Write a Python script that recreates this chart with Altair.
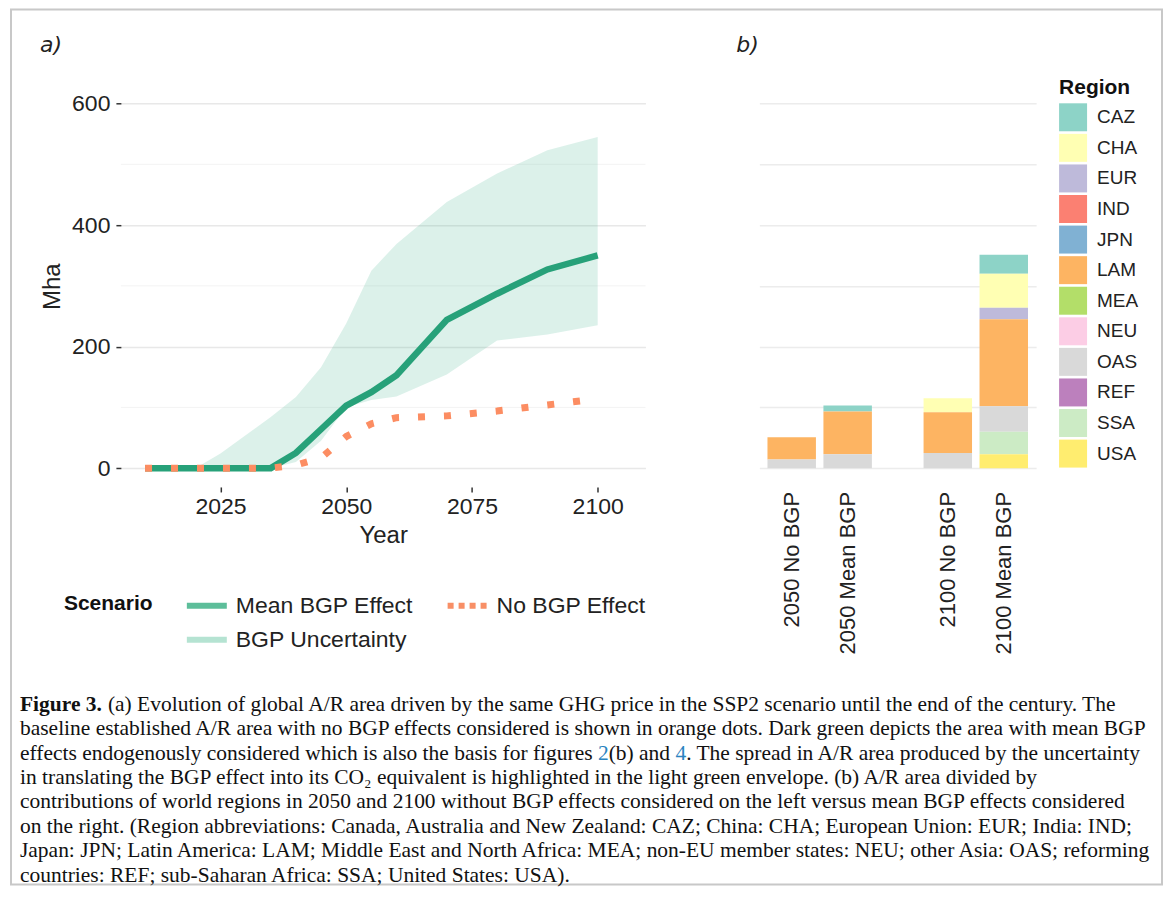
import altair as alt
import pandas as pd

# ---------------- data: panel a ----------------
years = [2010, 2015, 2020, 2025, 2030, 2035, 2040, 2045, 2050, 2055, 2060, 2070, 2080, 2090, 2100]
mean_bgp = [0, 0, 0, 0, 0, 0, 25, 64, 103, 125, 153, 244, 287, 327, 350]
unc_low = [0, 0, 0, 0, 0, 0, 10, 45, 100, 112, 118, 154, 210, 220, 235]
unc_high = [0, 0, 0, 24, 54, 84, 117, 166, 238, 325, 369, 438, 485, 523, 545]
no_bgp = [0, 0, 0, 0, 0, 0, 5, 17, 52, 73, 83, 86, 94, 104, 114]
minor_grid = [100, 300, 500]

scenarios = ["Mean BGP Effect", "No BGP Effect", "BGP Uncertainty"]
scenario_colors = ["#5dbe9a", "#f88f66", "#b5e3d2"]

# ---------------- data: panel b ----------------
regions = ["CAZ", "CHA", "EUR", "IND", "JPN", "LAM", "MEA", "NEU", "OAS", "REF", "SSA", "USA"]
region_colors = ["#8dd3c7", "#ffffb3", "#bebada", "#fb8072", "#80b1d3", "#fdb462",
                 "#b3de69", "#fccde5", "#d9d9d9", "#bc80bd", "#ccebc5", "#ffed6f"]
bar_years = ["2050", "2050", "2100", "2100"]
bar_scen = ["No BGP", "Mean BGP", "No BGP", "Mean BGP"]
v2050_no = [0, 0, 0, 0, 0, 37, 0, 0, 14, 0, 0, 0]
v2050_mean = [10, 0, 0, 0, 0, 70, 0, 0, 23, 0, 0, 0]
v2100_no = [0, 23, 0, 0, 0, 67, 0, 0, 25, 0, 0, 0]
v2100_mean = [31, 56, 19, 0, 0, 143, 0, 0, 42, 0, 37, 23]
bar_values = [v2050_no, v2050_mean, v2100_no, v2100_mean]

# ---------------- caption ----------------
caption_bold = "Figure 3."
caption_lines = [
    "(a) Evolution of global A/R area driven by the same GHG price in the SSP2 scenario until the end of the century. The",
    "baseline established A/R area with no BGP effects considered is shown in orange dots. Dark green depicts the area with mean BGP",
    "effects endogenously considered which is also the basis for figures 2(b) and 4. The spread in A/R area produced by the uncertainty",
    "in translating the BGP effect into its CO\u2082 equivalent is highlighted in the light green envelope. (b) A/R area divided by",
    "contributions of world regions in 2050 and 2100 without BGP effects considered on the left versus mean BGP effects considered",
    "on the right. (Region abbreviations: Canada, Australia and New Zealand: CAZ; China: CHA; European Union: EUR; India: IND;",
    "Japan: JPN; Latin America: LAM; Middle East and North Africa: MEA; non-EU member states: NEU; other Asia: OAS; reforming",
    "countries: REF; sub-Saharan Africa: SSA; United States: USA).",
]

# ---------------- tables ----------------
df_a = pd.DataFrame({"year": years, "mean": mean_bgp, "low": unc_low,
                     "high": unc_high, "nobgp": no_bgp})
df_minor = pd.DataFrame({"v": minor_grid})
df_leg = pd.DataFrame({"year": years[:3], "value": [0, 0, 0], "scenario": scenarios})

rows = []
for yr, sc, vals in zip(bar_years, bar_scen, bar_values):
    for i, (r, v) in enumerate(zip(regions, vals)):
        if v > 0:
            rows.append({"year": yr, "scen": sc, "region": r, "ord": i, "value": v})
df_b = pd.DataFrame(rows)
df_lab = pd.DataFrame({"year": bar_years, "scen": bar_scen,
                       "label": [f"{y} {s}" for y, s in zip(bar_years, bar_scen)]})

line3_gap = caption_lines[2].replace("figures 2(b) and 4.", "figures \u2007(b) and \u2007.")
cap_plain = pd.DataFrame({"line": [1, 3, 4, 5, 6, 7],
                          "text": [caption_lines[i] for i in [1, 3, 4, 5, 6, 7]]})
cap_first = pd.DataFrame({"line": [0], "text": [caption_lines[0]]})
cap_bold = pd.DataFrame({"line": [0], "text": [caption_bold]})
cap_blue = pd.DataFrame({"line": [2], "text": [caption_lines[2]]})
cap_gap = pd.DataFrame({"line": [2], "text": [line3_gap]})
one = pd.DataFrame({"k": [0]})

# ---------------- style constants ----------------
SANS = "Liberation Sans"
SERIF = "Liberation Serif"
WA, WB, H = 525, 277, 402
TXT = "#222222"
CAP_SIZE = 21.5

x_scale = alt.Scale(domain=[2005.2, 2109.5], nice=False, zero=False)
y_scale = alt.Scale(domain=[-31, 630], nice=False, zero=False)
x_axis = alt.Axis(values=[2025, 2050, 2075, 2100], format="d", title="Year", grid=False,
                  domain=False, tickSize=5, tickColor="#333333", tickWidth=1.5,
                  labelFont=SANS, labelFontSize=23, labelColor=TXT, labelPadding=4,
                  titleFont=SANS, titleFontSize=24, titleFontWeight="normal",
                  titleColor=TXT, titlePadding=5)
y_axis = alt.Axis(values=[0, 200, 400, 600], title="Mha", grid=True, gridColor="#e8e8e8",
                  gridWidth=1.5, domain=False, tickSize=5, tickColor="#333333",
                  tickWidth=1.5, labelFont=SANS, labelFontSize=23, labelColor=TXT,
                  labelPadding=6, titleFont=SANS, titleFontSize=24,
                  titleFontWeight="normal", titleColor=TXT, titlePadding=7)

def X(field):
    return alt.X(field, scale=x_scale, axis=x_axis, title="Year")

def Y(field):
    return alt.Y(field, scale=y_scale, axis=y_axis, title="Mha")

minor = alt.Chart(df_minor).mark_rule(color="#f3f3f3", strokeWidth=1).encode(y=Y("v:Q"))
area = alt.Chart(df_a).mark_area(color="#4fb894", opacity=0.2).encode(
    x=X("year:Q"), y=Y("low:Q"), y2="high:Q")
mean_line = alt.Chart(df_a).mark_line(color="#27a179", strokeWidth=6.5, strokeCap="butt").encode(
    x=X("year:Q"), y=Y("mean:Q"))
nobgp_line = alt.Chart(df_a).mark_line(color="#fc8d62", strokeWidth=7, strokeDash=[7, 19],
                                       strokeCap="butt").encode(x=X("year:Q"), y=Y("nobgp:Q"))

leg = alt.Legend(title="Scenario", orient="none", legendX=-57, legendY=508,
                 direction="horizontal", columns=2, titleOrient="left",
                 titleAnchor="start", titleBaseline="top",
                 symbolType="M-2,0L2,0", symbolSize=400, symbolStrokeWidth=6,
                 labelOffset=16, labelFont=SANS, labelFontSize=23, labelColor=TXT,
                 titleFont=SANS, titleFontSize=21, titleFontWeight="bold", titleColor="#111111",
                 titlePadding=41, columnPadding=22, rowPadding=9, labelLimit=400)
dummy = alt.Chart(df_leg).transform_filter("false").mark_line().encode(
    x=X("year:Q"), y=Y("value:Q"),
    color=alt.Color("scenario:N", scale=alt.Scale(domain=scenarios, range=scenario_colors), legend=leg),
    strokeDash=alt.StrokeDash("scenario:N", scale=alt.Scale(domain=scenarios,
                              range=[[1, 0], [6, 5], [1, 0]]), legend=leg))

plot_a = alt.layer(minor, area, mean_line, nobgp_line, dummy)

cap_y = alt.Y("line:Q", scale=alt.Scale(domain=[0, 7], range=[620, 791.1]), axis=None)
cap_kw = dict(align="left", baseline="middle", font=SERIF, fontSize=CAP_SIZE, color="#111111")

frame = alt.Chart(one).mark_rect(filled=False, color="#c8c8c8", strokeWidth=2).encode(
    x=alt.value(-110), x2=alt.value(1042), y=alt.value(-76), y2=alt.value(800))
label_a = alt.Chart(one).mark_text(text="a)", align="left", baseline="middle", font="DejaVu Sans",
                                   fontStyle="italic", fontSize=22, color=TXT).encode(
    x=alt.value(-81), y=alt.value(-40))
c_plain = alt.Chart(cap_plain).mark_text(**cap_kw).encode(x=alt.value(-101), y=cap_y, text="text:N")
c_bold = alt.Chart(cap_bold).mark_text(fontWeight="bold", **cap_kw).encode(
    x=alt.value(-101), y=cap_y, text="text:N")
c_first = alt.Chart(cap_first).mark_text(**cap_kw).encode(x=alt.value(-13), y=cap_y, text="text:N")
blue_kw = dict(cap_kw)
blue_kw["color"] = "#2a83c0"
c_blue = alt.Chart(cap_blue).mark_text(**blue_kw).encode(x=alt.value(-101), y=cap_y, text="text:N")
erase_kw = dict(cap_kw)
erase_kw["color"] = "#ffffff"
c_erase = alt.Chart(cap_gap).mark_text(stroke="#ffffff", strokeWidth=1.4, **erase_kw).encode(
    x=alt.value(-101), y=cap_y, text="text:N")
c_gap = alt.Chart(cap_gap).mark_text(**cap_kw).encode(x=alt.value(-101), y=cap_y, text="text:N")

text_a = alt.layer(frame, label_a, c_plain, c_bold, c_first, c_blue, c_erase, c_gap)

panel_a = alt.layer(plot_a, text_a).resolve_scale(y="independent").properties(width=WA, height=H)

# ---------------- panel b ----------------
xb = alt.X("year:N", scale=alt.Scale(domain=["2050", "2100"], paddingInner=0.283, paddingOuter=0.028), axis=None)
xob = alt.XOffset("scen:N", scale=alt.Scale(domain=["No BGP", "Mean BGP"], paddingInner=0.134, paddingOuter=0.067))
yb_axis = alt.Axis(values=[0, 100, 200, 300, 400, 500, 600], grid=True, gridColor="#ececec",
                   gridWidth=1.5, labels=False, ticks=False, domain=False, title=None)
bars = alt.Chart(df_b).mark_bar().encode(
    x=xb, xOffset=xob,
    y=alt.Y("value:Q", scale=y_scale, axis=yb_axis, stack="zero"),
    color=alt.Color("region:N", scale=alt.Scale(domain=regions, range=region_colors),
                    legend=alt.Legend(title="Region", orient="none", legendX=300, legendY=-8,
                                      symbolType="square", symbolSize=784, symbolStrokeWidth=0,
                                      symbolOpacity=1, labelOffset=10, labelFont=SANS,
                                      labelFontSize=19, labelColor=TXT, titleFont=SANS,
                                      titleFontSize=21, titleFontWeight="bold",
                                      titleColor="#111111", titlePadding=5, rowPadding=2.6)),
    order=alt.Order("ord:Q", sort="descending"))
labels_b = alt.Chart(df_lab).mark_text(angle=270, align="right", baseline="middle", font=SANS,
                                       fontSize=22, color=TXT).encode(
    x=xb, xOffset=xob, y=alt.value(H + 5), text="label:N")
label_b = alt.Chart(one).mark_text(text="b)", align="left", baseline="middle", font="DejaVu Sans",
                                   fontStyle="italic", fontSize=22, color=TXT).encode(
    x=alt.value(-23), y=alt.value(-40))
panel_b = alt.layer(bars, labels_b, label_b).properties(width=WB, height=H)

chart = alt.hconcat(panel_a, panel_b, spacing=114, bounds="flush").resolve_scale(
    color="independent", strokeDash="independent"
).resolve_legend(color="independent", strokeDash="independent").properties(
    padding={"left": 2, "top": 0, "right": 2, "bottom": 0}
).configure_view(strokeWidth=0)

chart.save("out.html", embed_options={"renderer": "svg", "actions": False})
